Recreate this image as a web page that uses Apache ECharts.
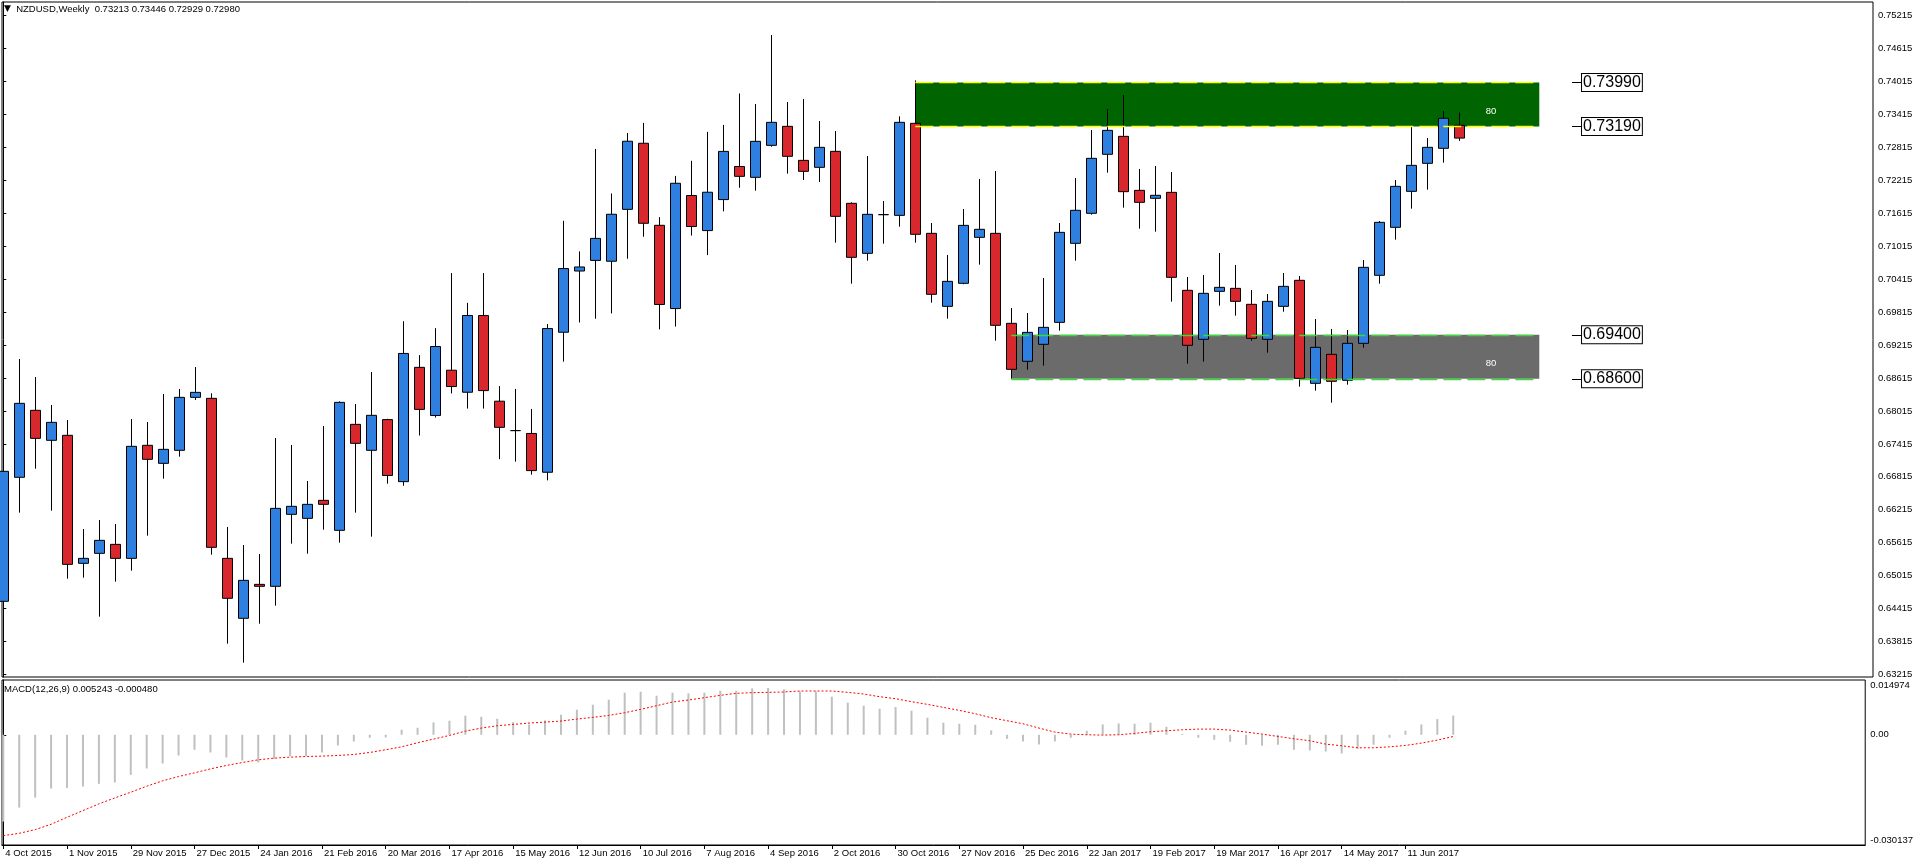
<!DOCTYPE html>
<html><head><meta charset="utf-8">
<script src="https://cdn.jsdelivr.net/npm/echarts@6/dist/echarts.min.js"></script>
<style>html,body{margin:0;padding:0;background:#fff}#c{width:1916px;height:866px}</style>
</head><body><div id="c"></div>
<script>
const dates = ['4 Oct 2015','11 Oct 2015','18 Oct 2015','25 Oct 2015','1 Nov 2015','8 Nov 2015','15 Nov 2015','22 Nov 2015','29 Nov 2015','6 Dec 2015',
'13 Dec 2015','20 Dec 2015','27 Dec 2015','3 Jan 2016','10 Jan 2016','17 Jan 2016','24 Jan 2016','31 Jan 2016','7 Feb 2016','14 Feb 2016',
'21 Feb 2016','28 Feb 2016','6 Mar 2016','13 Mar 2016','20 Mar 2016','27 Mar 2016','3 Apr 2016','10 Apr 2016','17 Apr 2016','24 Apr 2016',
'1 May 2016','8 May 2016','15 May 2016','22 May 2016','29 May 2016','5 Jun 2016','12 Jun 2016','19 Jun 2016','26 Jun 2016','3 Jul 2016',
'10 Jul 2016','17 Jul 2016','24 Jul 2016','31 Jul 2016','7 Aug 2016','14 Aug 2016','21 Aug 2016','28 Aug 2016','4 Sep 2016','11 Sep 2016',
'18 Sep 2016','25 Sep 2016','2 Oct 2016','9 Oct 2016','16 Oct 2016','23 Oct 2016','30 Oct 2016','6 Nov 2016','13 Nov 2016','20 Nov 2016',
'27 Nov 2016','4 Dec 2016','11 Dec 2016','18 Dec 2016','25 Dec 2016','1 Jan 2017','8 Jan 2017','15 Jan 2017','22 Jan 2017','29 Jan 2017',
'5 Feb 2017','12 Feb 2017','19 Feb 2017','26 Feb 2017','5 Mar 2017','12 Mar 2017','19 Mar 2017','26 Mar 2017','2 Apr 2017','9 Apr 2017',
'16 Apr 2017','23 Apr 2017','30 Apr 2017','7 May 2017','14 May 2017','21 May 2017','28 May 2017','4 Jun 2017','11 Jun 2017','18 Jun 2017',
'25 Jun 2017','2 Jul 2017'];

const open = [0.64550,0.66807,0.68026,0.67480,0.67571,0.65241,0.65423,0.65587,0.65332,0.67389,
0.67061,0.67298,0.68262,0.68244,0.65332,0.64241,0.64859,0.64823,0.66133,0.66060,
0.66388,0.65842,0.67771,0.67298,0.67857,0.66728,0.68808,0.67932,0.68756,0.68355,
0.69752,0.68192,0.67657,0.67605,0.66899,0.69447,0.70561,0.70754,0.70739,0.71683,
0.72886,0.71393,0.69878,0.71935,0.71297,0.71861,0.72463,0.72266,0.72848,0.73194,
0.72575,0.72448,0.72739,0.71793,0.70883,0.71587,0.71574,0.73249,0.71247,0.69918,
0.70337,0.71174,0.71247,0.69609,0.68918,0.69227,0.69627,0.71065,0.71611,0.72685,
0.73012,0.72029,0.71884,0.71993,0.70210,0.69318,0.70191,0.70246,0.69955,0.69318,
0.69918,0.70392,0.68517,0.69045,0.68572,0.69245,0.70483,0.71356,0.72011,0.72521,
0.72794,0.73213];
const high = [0.67189,0.68960,0.68632,0.68123,0.67850,0.65866,0.66030,0.65957,0.67868,0.67813,
0.68323,0.68414,0.68814,0.68335,0.65903,0.65575,0.65411,0.67522,0.67395,0.66740,
0.67741,0.68189,0.68141,0.68723,0.67872,0.69648,0.69031,0.69521,0.70524,0.69982,
0.70524,0.68467,0.68415,0.68051,0.69595,0.71475,0.70918,0.72782,0.71972,0.73072,
0.73257,0.71542,0.72292,0.72567,0.73094,0.73220,0.73792,0.73601,0.74856,0.73637,
0.73692,0.73291,0.73109,0.71811,0.72654,0.71835,0.73376,0.74031,0.71435,0.70853,
0.71690,0.72236,0.72381,0.69888,0.69797,0.70434,0.71435,0.72254,0.73127,0.73510,
0.73764,0.72418,0.72472,0.72363,0.70452,0.70489,0.70889,0.70671,0.70216,0.70143,
0.70525,0.70470,0.69688,0.69506,0.69488,0.70762,0.71471,0.72218,0.73182,0.72982,
0.73473,0.73446];
const low = [0.64362,0.66164,0.66964,0.66200,0.64962,0.64981,0.64271,0.64908,0.65108,0.65745,
0.66782,0.67183,0.68214,0.65399,0.63780,0.63434,0.64143,0.64471,0.65599,0.65417,
0.65854,0.65618,0.66164,0.65727,0.66691,0.66654,0.67568,0.67894,0.68333,0.68058,
0.68058,0.67137,0.67092,0.66855,0.66751,0.68912,0.69625,0.69692,0.69789,0.70784,
0.71185,0.69499,0.69551,0.71207,0.70851,0.71646,0.72076,0.72023,0.72824,0.72333,
0.72217,0.72181,0.71077,0.70331,0.70750,0.71059,0.71368,0.71077,0.69985,0.69694,
0.70319,0.70677,0.69294,0.68602,0.68766,0.68839,0.69476,0.70750,0.71587,0.72351,
0.71714,0.71332,0.71277,0.70003,0.68875,0.68912,0.69931,0.69749,0.69294,0.69075,
0.69821,0.68457,0.68384,0.68165,0.68493,0.69166,0.70331,0.71132,0.71696,0.72042,
0.72533,0.72929];
const close = [0.66916,0.68153,0.67516,0.67807,0.65223,0.65332,0.65660,0.65332,0.67371,0.67134,
0.67316,0.68262,0.68353,0.65533,0.64605,0.64932,0.64823,0.66242,0.66279,0.66315,
0.66315,0.68171,0.67425,0.67935,0.66840,0.69061,0.68043,0.69187,0.68459,0.69752,
0.68385,0.67716,0.67657,0.66929,0.69514,0.70606,0.70635,0.71155,0.71594,0.72923,
0.71430,0.69952,0.72158,0.71371,0.71995,0.72738,0.72284,0.72921,0.73267,0.72648,
0.72375,0.72812,0.71556,0.70810,0.71593,0.71587,0.73267,0.71229,0.70137,0.70373,
0.71392,0.71320,0.69573,0.68772,0.69445,0.69536,0.71265,0.71666,0.72612,0.73121,
0.72005,0.71811,0.71939,0.70446,0.69209,0.70155,0.70264,0.70009,0.69336,0.70009,
0.70282,0.68608,0.69172,0.68554,0.69245,0.70628,0.71447,0.72102,0.72484,0.72812,
0.73340,0.72980];

const macdMain = [-0.02374,-0.01991,-0.01717,-0.01470,-0.01452,-0.01416,-0.01342,-0.01306,-0.01096,-0.00922,
-0.00785,-0.00566,-0.00411,-0.00484,-0.00621,-0.00703,-0.00758,-0.00658,-0.00584,-0.00584,
-0.00484,-0.00292,-0.00183,-0.00082,-0.00073,0.00137,0.00192,0.00338,0.00384,0.00521,
0.00493,0.00438,0.00347,0.00283,0.00393,0.00548,0.00685,0.00822,0.00959,0.01151,
0.01178,0.01068,0.01151,0.01132,0.01151,0.01205,0.01205,0.01269,0.01279,0.01242,
0.01187,0.01187,0.01041,0.00877,0.00795,0.00712,0.00758,0.00658,0.00466,0.00329,
0.00301,0.00274,0.00119,-0.00110,-0.00183,-0.00265,-0.00183,-0.00082,0.00110,0.00283,
0.00311,0.00301,0.00329,0.00219,0.00027,-0.00082,-0.00137,-0.00192,-0.00274,-0.00301,
-0.00274,-0.00411,-0.00429,-0.00457,-0.00511,-0.00384,-0.00274,-0.00082,0.00110,0.00283,
0.00429,0.005243];
const macdSignal = [-0.02758,-0.02694,-0.02594,-0.02447,-0.02256,-0.02073,-0.01890,-0.01726,-0.01571,-0.01406,
-0.01260,-0.01142,-0.01041,-0.00932,-0.00840,-0.00758,-0.00685,-0.00639,-0.00612,-0.00594,
-0.00584,-0.00566,-0.00539,-0.00484,-0.00411,-0.00329,-0.00219,-0.00119,-0.00018,0.00100,
0.00183,0.00247,0.00283,0.00320,0.00347,0.00374,0.00429,0.00475,0.00530,0.00603,
0.00694,0.00795,0.00895,0.00950,0.01014,0.01078,0.01132,0.01151,0.01160,0.01169,
0.01196,0.01196,0.01196,0.01160,0.01114,0.01041,0.00986,0.00904,0.00831,0.00749,
0.00667,0.00575,0.00466,0.00384,0.00301,0.00183,0.00073,0.00018,0.00000,-0.00009,
0.00000,0.00037,0.00082,0.00110,0.00137,0.00155,0.00155,0.00128,0.00073,0.00018,
-0.00046,-0.00110,-0.00164,-0.00256,-0.00301,-0.00356,-0.00356,-0.00329,-0.00292,-0.00228,
-0.00146,-0.000480];

const priceTicks = [0.63215,0.63815,0.64415,0.65015,0.65615,0.66215,0.66815,0.67415,0.68015,0.68615,
0.69215,0.69815,0.70415,0.71015,0.71615,0.72215,0.72815,0.73415,0.74015,0.74615,0.75215];
const macdTicks = [-0.030137, 0, 0.014974];
const dateTickBars = [0,4,8,12,16,20,24,28,32,36,40,44,48,52,56,60,64,68,72,76,80,84,88];

const zoneStart = [57, 63];
const zoneEnd = [96, 96];
const zoneHigh = [0.7399, 0.6940];
const zoneLow = [0.7319, 0.6860];
const zoneText = ['80', '80'];

const FONT = 'Liberation Sans';
const X_MIN = -0.08125, X_MAX = 116.85625;
const zoneFill = ['#006400', '#6B6B6B'];
const zoneDash = ['#FFFF00', '#33DD33'];
const last = dates.length - 1;

const candleData = dates.map((d, i) => [i, open[i], close[i], low[i], high[i]]);

const zoneAreas = zoneStart.map((s, i) => [
  { xAxis: s, yAxis: zoneHigh[i], itemStyle: { color: zoneFill[i] },
    label: { show: true, formatter: zoneText[i], position: 'insideRight', distance: 43, offset: [0, 7],
             color: '#fff', fontSize: 9.5, fontFamily: FONT } },
  { xAxis: zoneEnd[i], yAxis: zoneLow[i] }
]);
const dashLines = [];
zoneStart.forEach((s, i) => {
  [zoneHigh[i], zoneLow[i]].forEach(v => {
    dashLines.push([{ coord: [s, v], lineStyle: { color: zoneDash[i], width: 1.3, type: [18, 6] } }, { coord: [zoneEnd[i], v] }]);
  });
});
const levelBoxes = [];
zoneStart.forEach((s, i) => {
  [zoneHigh[i], zoneLow[i]].forEach(v => {
    levelBoxes.push([{ coord: [98.04, v], name: v.toFixed(5) }, { coord: [98.67, v] }]);
  });
});

const chart = echarts.init(document.getElementById('c'));
chart.setOption({
  animation: false,
  backgroundColor: '#fff',
  textStyle: { fontFamily: FONT },
  title: [
    { text: '{t|▼}  NZDUSD,Weekly  ' + [open[last], high[last], low[last], close[last]].map(v => v.toFixed(5)).join(' '),
      left: 4, top: 4, padding: 0,
      textStyle: { fontSize: 9.5, fontWeight: 'normal', color: '#000', fontFamily: FONT,
                   rich: { t: { fontSize: 9, color: '#000', fontFamily: 'DejaVu Sans' } } } },
    { text: 'MACD(12,26,9) ' + macdMain[last].toFixed(6) + ' ' + macdSignal[last].toFixed(6),
      left: 4, top: 684, padding: 0,
      textStyle: { fontSize: 9.5, fontWeight: 'normal', color: '#000', fontFamily: FONT } }
  ],
  grid: [
    { left: 2, top: 2, width: 1871, height: 675, show: true, borderColor: '#000', borderWidth: 1, backgroundColor: '#fff' },
    { left: 2, top: 680, width: 1871, height: 165, show: true, borderColor: '#000', borderWidth: 1, backgroundColor: '#fff' }
  ],
  xAxis: [
    { type: 'value', gridIndex: 0, min: X_MIN, max: X_MAX, show: false },
    { type: 'value', gridIndex: 1, min: X_MIN, max: X_MAX,
      splitLine: { show: false },
      axisLine: { show: true, onZero: false, lineStyle: { color: '#000', width: 1 } },
      axisTick: { show: true, customValues: dateTickBars, length: 4, lineStyle: { color: '#000' } },
      axisLabel: { customValues: dateTickBars, formatter: v => dates[Math.round(v)], align: 'left',
                   margin: 3, fontSize: 9.5, color: '#000', fontFamily: FONT, padding: [0, 0, 0, 2] } }
  ],
  yAxis: [
    { type: 'value', gridIndex: 0, position: 'right', min: 0.631729, max: 0.754568, scale: true,
      splitLine: { show: false },
      axisLine: { show: true, lineStyle: { color: '#000' } },
      axisTick: { show: true, customValues: priceTicks, length: 3, lineStyle: { color: '#000' } },
      axisLabel: { customValues: priceTicks, formatter: v => v.toFixed(5), margin: 5,
                   fontSize: 9.5, color: '#000', fontFamily: FONT } },
    { type: 'value', gridIndex: 1, position: 'right', min: -0.030137, max: 0.014974,
      splitLine: { show: false },
      axisLine: { show: true, lineStyle: { color: '#000' } },
      axisTick: { show: true, customValues: [0], length: 3, lineStyle: { color: '#000' } },
      axisLabel: { customValues: macdTicks, formatter: v => (v === 0 ? '0.00' : v.toFixed(6)), margin: 5,
                   verticalAlignMaxLabel: 'top', verticalAlignMinLabel: 'bottom',
                   fontSize: 9.5, color: '#000', fontFamily: FONT } }
  ],
  series: [
    { type: 'line', xAxisIndex: 0, yAxisIndex: 0, data: [], z: 1, silent: true,
      markArea: { silent: true, data: zoneAreas } },
    { type: 'candlestick', xAxisIndex: 0, yAxisIndex: 0, z: 3, barWidth: 10,
      data: candleData, encode: { x: 0, y: [1, 2, 3, 4] },
      itemStyle: { color: '#2F7FE0', color0: '#D9272E', borderColor: '#000', borderColor0: '#000', borderWidth: 1 },
      markLine: { silent: true, symbol: ['none', 'none'], animation: false,
        data: [{ yAxis: close[last] }],
        lineStyle: { opacity: 0 },
        label: { show: true, position: 'end', distance: 2, formatter: close[last].toFixed(5),
                 backgroundColor: '#000', color: '#fff', padding: [1, 3, 1, 3], fontSize: 9.5, fontFamily: FONT } } },
    { type: 'line', xAxisIndex: 0, yAxisIndex: 0, data: [], z: 5, silent: true,
      markLine: { silent: true, symbol: ['none', 'none'], animation: false, label: { show: false }, data: dashLines } },
    { type: 'line', xAxisIndex: 0, yAxisIndex: 0, data: [], z: 5, silent: true,
      markLine: { silent: true, symbol: ['none', 'none'], animation: false,
        lineStyle: { color: '#000', width: 1, type: 'solid' },
        label: { show: true, position: 'end', distance: 0, formatter: '{b}', color: '#000',
                 backgroundColor: '#fff', borderColor: '#000', borderWidth: 1, padding: [1, 1, 0, 1],
                 fontSize: 16, fontFamily: FONT },
        data: levelBoxes } },
    { type: 'bar', xAxisIndex: 1, yAxisIndex: 1, barWidth: 2, silent: true,
      data: macdMain.map((v, i) => [i, v]), itemStyle: { color: '#C0C0C0' } },
    { type: 'line', xAxisIndex: 1, yAxisIndex: 1, symbol: 'none', silent: true,
      data: macdSignal.map((v, i) => [i, v]), lineStyle: { color: '#FF0000', width: 1, type: [2, 2] } }
  ]
});
</script>
</body></html>
